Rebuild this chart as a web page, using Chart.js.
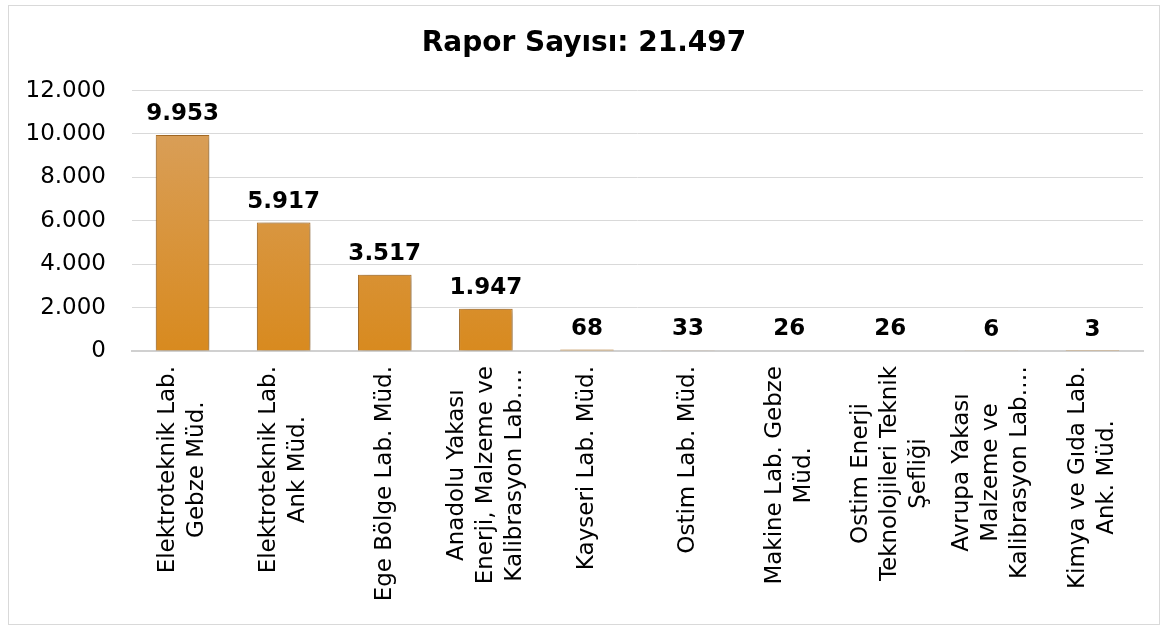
<!DOCTYPE html>
<html>
<head>
<meta charset="utf-8">
<script src="https://cdn.jsdelivr.net/npm/chart.js@4.4.1/dist/chart.umd.min.js"></script>
<style>
  body { margin: 0; background: #fff; }
  #wrap { position: absolute; left: 8px; top: 5px; width: 1150px; height: 618px; border: 1px solid #D9D9D9; }
</style>
</head>
<body>
<div id="wrap"><canvas id="chart"></canvas></div>
<script>
const titleText = 'Rapor Sayısı: 21.497';
const categories = [
  ['Elektroteknik Lab.', 'Gebze Müd.'],
  ['Elektroteknik Lab.', 'Ank Müd.'],
  ['Ege Bölge Lab. Müd.'],
  ['Anadolu Yakası', 'Enerji, Malzeme ve', 'Kalibrasyon Lab.…'],
  ['Kayseri Lab. Müd.'],
  ['Ostim Lab. Müd.'],
  ['Makine Lab. Gebze', 'Müd.'],
  ['Ostim Enerji', 'Teknolojileri Teknik', 'Şefliği'],
  ['Avrupa Yakası', 'Malzeme ve', 'Kalibrasyon Lab.…'],
  ['Kimya ve Gıda Lab.', 'Ank. Müd.']
];
const reportCounts = [9953, 5917, 3517, 1947, 68, 33, 26, 26, 6, 3];
const yTicks = [0, 2000, 4000, 6000, 8000, 10000, 12000];

const FONT = '"DejaVu Sans", Verdana, sans-serif';

function fmt(n) {
  return String(n).replace(/\B(?=(\d{3})+(?!\d))/g, '.');
}

// value labels above bars
const valueLabels = {
  id: 'valueLabels',
  afterDatasetsDraw(chart) {
    const ctx = chart.ctx;
    const meta = chart.getDatasetMeta(0);
    ctx.save();
    ctx.font = 'bold 23px ' + FONT;
    ctx.fillStyle = '#000';
    ctx.textAlign = 'center';
    ctx.textBaseline = 'alphabetic';
    meta.data.forEach((bar, i) => {
      ctx.fillText(fmt(reportCounts[i]), bar.x, bar.y - 15);
    });
    ctx.restore();
  }
};

// rotated, centred multi-line category labels
const catLabels = {
  id: 'catLabels',
  afterDraw(chart) {
    const ctx = chart.ctx;
    const xs = chart.scales.x;
    const lineH = 29;
    ctx.save();
    ctx.font = '23px ' + FONT;
    ctx.fillStyle = '#000';
    ctx.textAlign = 'center';
    ctx.textBaseline = 'middle';
    categories.forEach((lines, i) => {
      const x = xs.getPixelForTick(i);
      const maxW = Math.max(...lines.map(l => ctx.measureText(l).width));
      ctx.save();
      ctx.translate(x, chart.chartArea.bottom + 15);
      ctx.rotate(-Math.PI / 2);
      lines.forEach((l, j) => {
        ctx.fillText(l, -maxW / 2, (j - (lines.length - 1) / 2) * lineH);
      });
      ctx.restore();
    });
    ctx.restore();
  }
};

const barShadow = {
  id: 'barShadow',
  beforeDatasetDraw(chart) {
    const ctx = chart.ctx;
    ctx.save();
    ctx.shadowColor = 'rgba(0,0,0,0.4)';
    ctx.shadowBlur = 8;
    ctx.shadowOffsetX = 1;
    ctx.shadowOffsetY = 1;
  },
  afterDatasetDraw(chart) {
    chart.ctx.restore();
  }
};

const ctx = document.getElementById('chart').getContext('2d');
new Chart(ctx, {
  type: 'bar',
  data: {
    labels: categories,
    datasets: [{
      data: reportCounts,
      backgroundColor(c) {
        const area = c.chart.chartArea;
        if (!area) return '#D9922F';
        const g = c.chart.ctx.createLinearGradient(0, area.top, 0, area.bottom);
        g.addColorStop(0, '#D9A262');
        g.addColorStop(1, '#D88A1F');
        return g;
      },
      borderColor: '#B8782A',
      borderWidth: 1,
      barPercentage: 0.53,
      categoryPercentage: 1
    }]
  },
  options: {
    responsive: true,
    maintainAspectRatio: false,
    animation: false,
    layout: { padding: { left: 16, right: 16, top: 8, bottom: 265 } },
    plugins: {
      legend: { display: false },
      tooltip: { enabled: false },
      title: {
        display: true,
        text: titleText,
        color: '#000',
        font: { family: FONT, size: 28, weight: 'bold' },
        padding: { top: 13, bottom: 30 }
      }
    },
    scales: {
      x: {
        grid: { display: false },
        border: { display: true, color: '#D0D0D0', width: 2 },
        ticks: { display: false }
      },
      y: {
        min: 0,
        max: 12000,
        afterBuildTicks(axis) { axis.ticks = yTicks.map(v => ({ value: v })); },
        afterFit(axis) { axis.width = 107; },
        grid: { color: '#D9D9D9', drawTicks: false },
        border: { display: false },
        ticks: {
          color: '#000',
          padding: 26,
          font: { family: FONT, size: 23 },
          callback: v => fmt(v)
        }
      }
    }
  },
  plugins: [barShadow, valueLabels, catLabels]
});
</script>
</body>
</html>
